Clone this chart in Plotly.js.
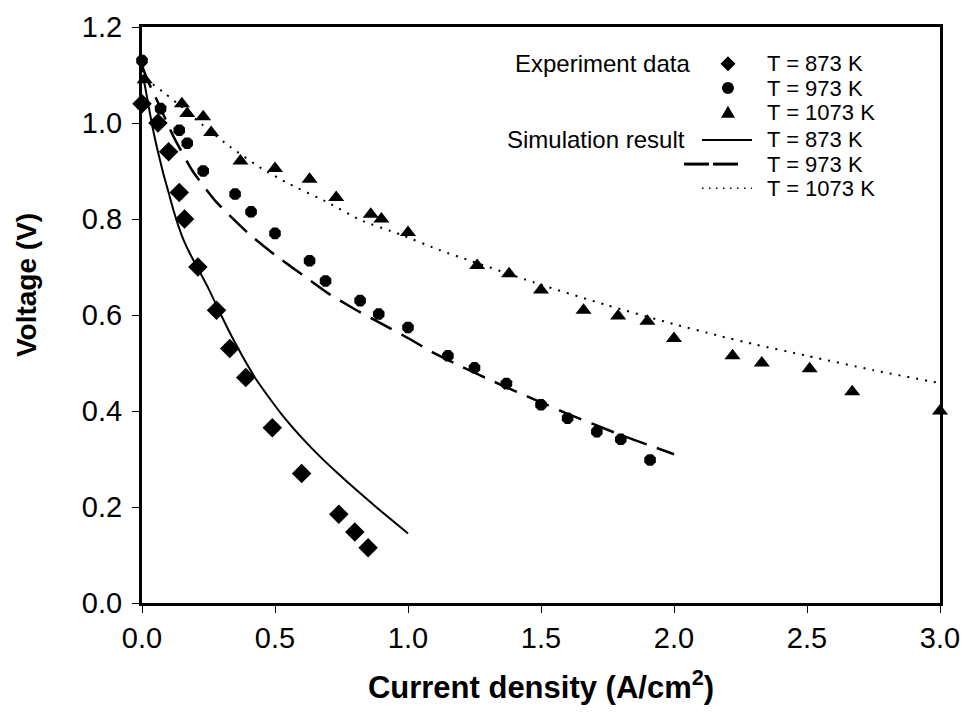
<!DOCTYPE html>
<html>
<head>
<meta charset="utf-8">
<script src="https://cdn.plot.ly/plotly-3.0.1.min.js"></script>
<style>html,body{margin:0;padding:0;background:#fff;}#chart{width:965px;height:722px;}</style>
</head>
<body>
<div id="chart"></div>
<script>
// Experiment data
const exp873_x = [0.0, 0.06, 0.10, 0.14, 0.16, 0.21, 0.28, 0.33, 0.39, 0.49, 0.60, 0.74, 0.80, 0.85];
const exp873_y = [1.04, 1.00, 0.94, 0.855, 0.80, 0.70, 0.61, 0.53, 0.47, 0.365, 0.27, 0.185, 0.148, 0.115];

const exp973_x = [0.0, 0.07, 0.14, 0.17, 0.23, 0.35, 0.41, 0.50, 0.63, 0.69, 0.82, 0.89, 1.00, 1.15, 1.25, 1.37, 1.50, 1.60, 1.71, 1.80, 1.91];
const exp973_y = [1.13, 1.03, 0.985, 0.958, 0.90, 0.852, 0.815, 0.77, 0.713, 0.671, 0.63, 0.602, 0.574, 0.515, 0.49, 0.457, 0.413, 0.385, 0.357, 0.341, 0.298];

const exp1073_x = [0.01, 0.15, 0.17, 0.23, 0.26, 0.37, 0.50, 0.63, 0.73, 0.86, 0.90, 1.00, 1.26, 1.38, 1.50, 1.66, 1.79, 1.90, 2.00, 2.22, 2.33, 2.51, 2.67, 3.00];
const exp1073_y = [1.09, 1.04, 1.02, 1.013, 0.98, 0.921, 0.905, 0.883, 0.845, 0.81, 0.80, 0.772, 0.703, 0.686, 0.652, 0.61, 0.598, 0.587, 0.551, 0.515, 0.50, 0.488, 0.44, 0.40];

// Simulation results
const sim873_x = [0, 0.01, 0.02, 0.04, 0.06, 0.08, 0.10, 0.12, 0.15, 0.18, 0.21, 0.25, 0.30, 0.35, 0.43, 0.525, 0.625, 0.74, 0.88, 1.0];
const sim873_y = [1.10, 1.08, 1.05, 0.99, 0.94, 0.895, 0.855, 0.815, 0.765, 0.728, 0.697, 0.655, 0.597, 0.542, 0.465, 0.393, 0.33, 0.268, 0.2, 0.145];

const sim973_x = [0, 0.02, 0.05, 0.12, 0.19, 0.28, 0.40, 0.50, 0.60, 0.70, 0.80, 0.90, 1.00, 1.10, 1.20, 1.30, 1.40, 1.50, 1.60, 1.70, 1.80, 1.90, 2.00];
const sim973_y = [1.12, 1.09, 1.055, 0.97, 0.90, 0.835, 0.77, 0.725, 0.685, 0.645, 0.612, 0.582, 0.552, 0.52, 0.493, 0.467, 0.442, 0.418, 0.394, 0.372, 0.35, 0.33, 0.31];

const sim1073_x = [0, 0.03, 0.09, 0.15, 0.23, 0.33, 0.45, 0.55, 0.70, 0.82, 0.97, 1.12, 1.24, 1.50, 1.75, 2.00, 2.16, 2.31, 2.50, 2.75, 3.00];
const sim1073_y = [1.11, 1.086, 1.06, 1.033, 0.995, 0.951, 0.905, 0.874, 0.834, 0.798, 0.768, 0.735, 0.712, 0.663, 0.62, 0.581, 0.558, 0.538, 0.515, 0.485, 0.458];

// Tick labels
const xTicks = [0.0, 0.5, 1.0, 1.5, 2.0, 2.5, 3.0];
const xTickText = ["0.0", "0.5", "1.0", "1.5", "2.0", "2.5", "3.0"];
const yTicks = [0.0, 0.2, 0.4, 0.6, 0.8, 1.0, 1.2];
const yTickText = ["0.0", "0.2", "0.4", "0.6", "0.8", "1.0", "1.2"];

const legendTemps = ["T = 873 K", "T = 973 K", "T = 1073 K"];

const FONT = "Arial, 'Liberation Sans', sans-serif";

const traces = [
  {x: sim873_x, y: sim873_y, mode: 'lines', line: {color: '#000', width: 2, shape: 'spline', smoothing: 0.5}},
  {x: sim973_x, y: sim973_y, mode: 'lines', line: {color: '#000', width: 2.5, dash: '24px,11px', shape: 'spline', smoothing: 0.5}},
  {x: sim1073_x, y: sim1073_y, mode: 'lines', line: {color: '#000', width: 2, dash: '2px,7px', shape: 'spline', smoothing: 0.5}},
  {x: exp873_x, y: exp873_y, mode: 'markers', cliponaxis: false, marker: {symbol: 'diamond', size: 15, color: '#000'}},
  {x: exp973_x, y: exp973_y, mode: 'markers', cliponaxis: false, marker: {symbol: 'octagon', size: 12.5, color: '#000'}},
  {x: exp1073_x, y: exp1073_y, mode: 'markers', cliponaxis: false, marker: {symbol: 'triangle-up', size: 14, color: '#000'}}
];

// legend layout (paper coordinates)
const rowY = [0.936, 0.894, 0.851, 0.804, 0.762, 0.720];
const symX = 0.7343, txtX = 0.7807;
const annotations = [
  {x: 0.6892, y: rowY[0], text: 'Experiment data', xanchor: 'right', size: 24},
  {x: 0.683, y: rowY[3], text: 'Simulation result', xanchor: 'right', size: 24}
];
for (let i = 0; i < 6; i++) {
  annotations.push({x: txtX, y: rowY[i], text: legendTemps[i % 3], xanchor: 'left', size: 22});
}
annotations.forEach(a => { a.xref = 'paper'; a.yref = 'paper'; a.yanchor = 'middle'; a.showarrow = false; a.font = {family: FONT, size: a.size, color: '#000'}; delete a.size; });

// y-axis title as rotated annotation
annotations.push({xref: 'paper', yref: 'paper', x: -0.1454, y: 0.552, xanchor: 'center', yanchor: 'middle',
  text: '<b>Voltage (V)</b>', textangle: -90, showarrow: false, font: {family: FONT, size: 28, color: '#000'}});

const shapes = [
  // diamond
  {type: 'path', xref: 'paper', yref: 'paper', xsizemode: 'pixel', ysizemode: 'pixel', xanchor: symX, yanchor: rowY[0],
   path: 'M 0 7.5 L 7.5 0 L 0 -7.5 L -7.5 0 Z', fillcolor: '#000', line: {width: 0}},
  // circle
  {type: 'circle', xref: 'paper', yref: 'paper', xsizemode: 'pixel', ysizemode: 'pixel', xanchor: symX, yanchor: rowY[1],
   x0: -6, x1: 6, y0: -6, y1: 6, fillcolor: '#000', line: {width: 0}},
  // triangle
  {type: 'path', xref: 'paper', yref: 'paper', xsizemode: 'pixel', ysizemode: 'pixel', xanchor: symX, yanchor: rowY[2],
   path: 'M -7 -5 L 7 -5 L 0 7 Z', fillcolor: '#000', line: {width: 0}},
  // solid line
  {type: 'line', xref: 'paper', yref: 'paper', x0: 0.7018, x1: 0.7644, y0: rowY[3], y1: rowY[3], line: {color: '#000', width: 2}},
  // dashed line (two dashes)
  {type: 'line', xref: 'paper', yref: 'paper', x0: 0.6792, x1: 0.7105, y0: rowY[4], y1: rowY[4], line: {color: '#000', width: 3}},
  {type: 'line', xref: 'paper', yref: 'paper', x0: 0.7155, x1: 0.7469, y0: rowY[4], y1: rowY[4], line: {color: '#000', width: 3}},
  // dotted line
  {type: 'line', xref: 'paper', yref: 'paper', x0: 0.7018, x1: 0.7644, y0: rowY[5], y1: rowY[5], line: {color: '#000', width: 1.5, dash: '1.5px,5.5px'}}
];

const layout = {
  width: 965, height: 722,
  margin: {l: 142, r: 25, t: 27, b: 119},
  paper_bgcolor: '#fff', plot_bgcolor: '#fff',
  showlegend: false,
  font: {family: FONT, color: '#000'},
  xaxis: {
    range: [0, 3], tickvals: xTicks, ticktext: xTickText,
    showgrid: false, zeroline: false,
    showline: true, linewidth: 3, linecolor: '#000', mirror: true,
    ticks: 'outside', ticklen: 7, tickwidth: 1, tickcolor: '#000',
    tickfont: {family: FONT, size: 29, color: '#000'},
    title: {text: '<b>Current density (A/cm<sup>2</sup>)</b>', font: {family: FONT, size: 31, color: '#000'}, standoff: 24}
  },
  yaxis: {
    range: [0, 1.2], tickvals: yTicks, ticktext: yTickText,
    showgrid: false, zeroline: false,
    showline: true, linewidth: 3, linecolor: '#000', mirror: true,
    ticks: 'outside', ticklen: 7, tickwidth: 1, tickcolor: '#000',
    ticklabelstandoff: 4,
    tickfont: {family: FONT, size: 29, color: '#000'}
  },
  annotations: annotations,
  shapes: shapes
};

Plotly.newPlot('chart', traces, layout, {displayModeBar: false, staticPlot: true});
</script>
</body>
</html>
